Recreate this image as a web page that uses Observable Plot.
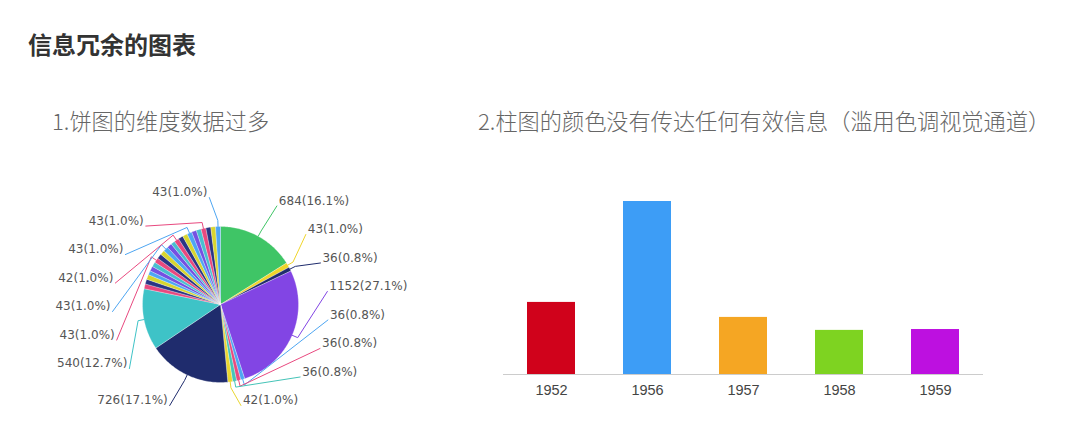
<!DOCTYPE html>
<html><head><meta charset="utf-8">
<script src="https://cdn.jsdelivr.net/npm/d3@7"></script>
<script src="https://cdn.jsdelivr.net/npm/@observablehq/plot@0.6"></script>
<style>
body{margin:0;background:#fff;width:1080px;height:442px;overflow:hidden;position:relative;font-family:"Noto Sans CJK SC",sans-serif;}
.t{position:absolute;white-space:nowrap;}
#title{left:28px;top:29px;font-size:24px;font-weight:700;color:#333;line-height:30px;}
.sub{font-size:22.2px;color:#666;line-height:26px;top:107px;font-weight:300;}
#sub1{left:52px}
#sub2{left:478px}
#pie{position:absolute;left:0;top:170px}
#bar{position:absolute;left:490px;top:170px}
</style></head><body>
<div id="title" class="t">信息冗余的图表</div>
<div id="sub1" class="t sub">1.饼图的维度数据过多</div>
<div id="sub2" class="t sub">2.柱图的颜色没有传达任何有效信息（滥用色调视觉通道）</div>
<div id="pie"></div><div id="bar"></div>
<script>
// ---- data ----
const pieValues = [684, 43, 36, 1152, 36, 36, 36, 42, 726, 540,
  43, 42, 43, 36, 43, 42, 43, 43, 42, 43, 43, 36, 42, 43, 43, 43, 42, 43, 43, 43, 42, 43];
const pieColors = ["#3fc566", "#f0d52a", "#1f2c6d", "#8245e4", "#4ea6f2", "#e8497f", "#45c4b8", "#e9d630", "#1f2c6d", "#3ec3c7",
  "#e8497f", "#2a3585", "#d8d52f", "#4ea6f2", "#7550e2", "#48bfd0",
  "#e8497f", "#2a3585", "#d8d52f", "#4ea6f2", "#7550e2", "#48bfd0",
  "#e8497f", "#2a3585", "#d8d52f", "#4ea6f2", "#7550e2", "#48bfd0",
  "#e8497f", "#2a3585", "#d8d52f", "#4ea6f2"];
const barYears = ["1952", "1956", "1957", "1958", "1959"];
const barValues = [250, 600, 198, 153, 156];
const barColors = ["#d0021b", "#3d9df6", "#f5a623", "#7ed321", "#bd10e0"];

// ---- pie ----
const R = 78, RY = 112, RX = 100, LEN2 = 10, GAP = 28.5, TOP = -112, BOT = 96;
const BIG = 10, SMALL_LABELS = 6, SMALL_STEP = 3;
const total = d3.sum(pieValues);
const arcs = d3.pie().sort(null)(pieValues);
const slicePts = arcs.flatMap((a, i) => {
  const pts = [{i, x: 0, y: 0}];
  const n = Math.max(2, Math.ceil((a.endAngle - a.startAngle) / (Math.PI / 180)));
  for (let k = 0; k <= n; k++) {
    const t = a.startAngle + (a.endAngle - a.startAngle) * k / n;
    pts.push({i, x: R * Math.sin(t), y: -R * Math.cos(t)});
  }
  pts.push({i, x: 0, y: 0});
  return pts;
});
const lastIdx = pieValues.length - 1;
const shown = i => i < BIG || ((lastIdx - i) % SMALL_STEP === 0 && (lastIdx - i) / SMALL_STEP < SMALL_LABELS);
const items = arcs.map((a, i) => {
  const mid = (a.startAngle + a.endAngle) / 2;
  return {i, mid, dir: Math.sin(mid) >= 0 ? 1 : -1, ny: -RY * Math.cos(mid), nx: RX * Math.sin(mid),
    text: `${pieValues[i]}(${(pieValues[i] / total * 100).toFixed(1)}%)`};
}).filter(it => shown(it.i));
for (const dir of [1, -1]) {
  const side = items.filter(it => it.dir === dir).sort((a, b) => a.ny - b.ny);
  side.forEach((it, k) => { it.y = Math.max(it.ny, TOP, k ? side[k - 1].y + GAP : -Infinity); });
  for (let k = side.length - 1; k >= 0; k--) {
    side[k].y = Math.min(side[k].y, BOT, k < side.length - 1 ? side[k + 1].y - GAP : Infinity);
  }
  for (const semi of [side.filter(it => it.y < 0), side.filter(it => it.y >= 0)]) {
    if (!semi.length) continue;
    const ext = semi.reduce((m, it) => Math.abs(it.y) > Math.abs(m.y) ? it : m);
    const dx = Math.abs(ext.nx), dy = Math.abs(ext.y);
    const rB = dx < RX ? Math.sqrt(dy * dy / (1 - dx * dx / (RX * RX))) : RX;
    semi.forEach(it => { it.x = dir * (Math.sqrt(Math.max(0, 1 - it.y * it.y / (rB * rB))) * RX + LEN2); });
  }
}
const leaderPts = items.flatMap(it => [
  {i: it.i, x: R * Math.sin(it.mid), y: -R * Math.cos(it.mid)},
  {i: it.i, x: (R + 6) * Math.sin(it.mid), y: -(R + 6) * Math.cos(it.mid)},
  {i: it.i, x: it.x - it.dir * 2, y: it.y + 5}
]);
const labelFont = {fontSize: 12, fontFamily: "DejaVu Sans", fill: "#555"};
const pie = Plot.plot({
  width: 440, height: 260, margin: 0,
  x: {domain: [-220, 220], range: [0, 440], axis: null},
  y: {domain: [-134, 126], range: [0, 260], axis: null},
  color: {type: "identity"},
  style: {background: "transparent"},
  marks: [
    Plot.line(slicePts, {x: "x", y: "y", z: "i", fill: p => pieColors[p.i], stroke: "#fff", strokeWidth: 0.4, strokeOpacity: 0.7}),
    Plot.line(leaderPts, {x: "x", y: "y", z: "i", stroke: p => pieColors[p.i], strokeWidth: 1}),
    Plot.text(items.filter(it => it.dir > 0), {x: "x", y: "y", text: "text", textAnchor: "start", ...labelFont}),
    Plot.text(items.filter(it => it.dir < 0), {x: "x", y: "y", text: "text", textAnchor: "end", ...labelFont})
  ]
});
document.getElementById("pie").append(pie);

// ---- bars ----
const barData = barYears.map((y, i) => ({year: y, value: barValues[i], color: barColors[i]}));
const bar = Plot.plot({
  width: 510, height: 240, marginLeft: 13, marginRight: 17, marginTop: 31, marginBottom: 36,
  x: {domain: barYears, paddingInner: 0.5, paddingOuter: 0.25, label: null, tickSize: 0, tickPadding: 10},
  y: {domain: [0, 600], axis: null},
  color: {type: "identity"},
  style: {fontSize: "14.5px", fontFamily: "Liberation Sans", color: "#444", background: "transparent"},
  marks: [
    Plot.barY(barData, {x: "year", y: "value", fill: "color"}),
    Plot.ruleY([0], {stroke: "#ccc"})
  ]
});
document.getElementById("bar").append(bar);
</script>
</body></html>
